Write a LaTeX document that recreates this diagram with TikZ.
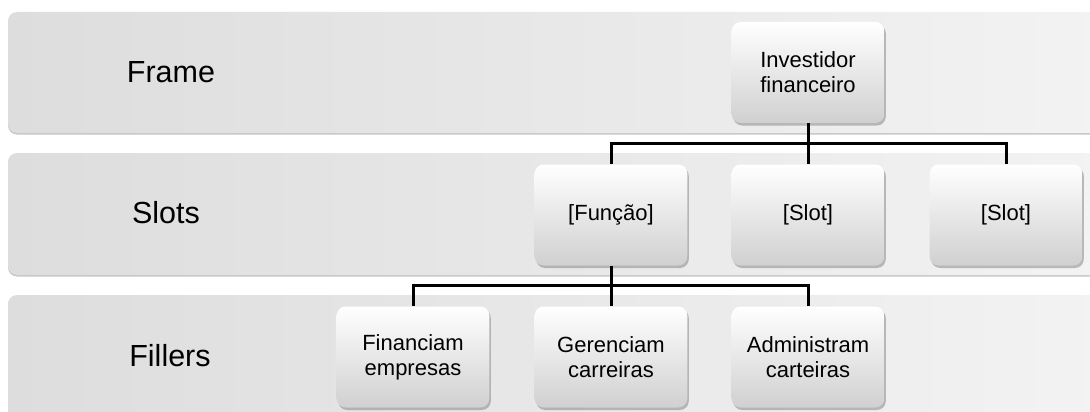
\documentclass[tikz,border=0pt]{standalone}
\usepackage{fontspec}
\setmainfont{Liberation Sans}
\usepackage{tikz}
\usetikzlibrary{shadows}
\definecolor{bandleft}{RGB}{221,221,221}
\definecolor{bandright}{RGB}{243,243,243}
\definecolor{boxbottom}{RGB}{208,208,208}
\tikzstyle{band} = [rectangle, rounded corners=9pt, left color=bandleft, right color=bandright, minimum width=1100pt, drop shadow={shadow xshift=0pt, shadow yshift=-1.5pt, opacity=0.45}]
\tikzstyle{block} = [rectangle, rounded corners=9pt, top color=white, bottom color=boxbottom, text width=146pt, align=center, minimum width=152pt, minimum height=101pt, font=\fontsize{22}{25}\selectfont, drop shadow={shadow xshift=1.5pt, shadow yshift=-2.5pt, opacity=0.5}]
\tikzstyle{layer} = [font=\fontsize{30.5}{33}\selectfont]
\tikzstyle{link} = [line width=3pt]

\begin{document}
\begin{tikzpicture}[x=1pt,y=1pt]
  \useasboundingbox (0,0) rectangle (1090,-412);
  % bands
  \draw (558.0pt, -72.5pt)node[band, minimum height=121pt](f){};
  \draw (558.0pt, -214.0pt)node[band, minimum height=122pt](s){};
  \draw (558.0pt, -357.5pt)node[band, minimum height=125pt](l){};
  \draw (171.0pt, -72.0pt)node[layer](fl){Frame};
  \draw (166.0pt, -213.0pt)node[layer](sl){Slots};
  \draw (170.0pt, -356.0pt)node[layer](ll){Fillers};
  % boxes
  \draw (808.0pt, -72.5pt)node[block](0){Investidor\\financeiro};
  \draw (611.0pt, -215.0pt)node[block](1){[Função]};
  \draw (808.0pt, -215.0pt)node[block](2){[Slot]};
  \draw (1006.0pt, -215.0pt)node[block](3){[Slot]};
  \draw (413.0pt, -357.0pt)node[block](4){Financiam\\empresas};
  \draw (611.0pt, -357.0pt)node[block](5){Gerenciam\\carreiras};
  \draw (808.0pt, -357.0pt)node[block](6){Administram\\carteiras};
  \coordinate (j0) at (808.0pt, -143.5pt);
  \coordinate (j1) at (611.0pt, -285.5pt);
  % links
  \draw[link] (0) -- (j0);
  \draw[link] (j0) -| (1);
  \draw[link] (j0) -- (2);
  \draw[link] (j0) -| (3);
  \draw[link] (1) -- (j1);
  \draw[link] (j1) -| (4);
  \draw[link] (j1) -- (5);
  \draw[link] (j1) -| (6);
\end{tikzpicture}
\end{document}
